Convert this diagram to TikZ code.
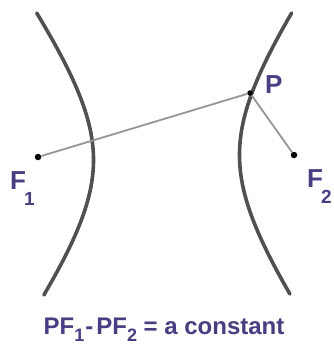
\documentclass[tikz,border=0pt]{standalone}
\usepackage{fontspec}
\setmainfont{Liberation Sans}
\definecolor{txt}{RGB}{72,62,130}
\definecolor{curve}{RGB}{80,80,80}
\definecolor{seg}{RGB}{150,150,150}
\begin{document}
\begin{tikzpicture}[x=1pt,y=-1pt,
  branch/.style={draw=curve,line width=3.6pt,line cap=round},
  segment/.style={draw=seg,line width=1.8pt},
  focus/.style={circle,fill=black,inner sep=0pt,minimum size=6.5pt},
  lbl/.style={text=txt,font=\fontsize{26}{26}\selectfont\bfseries,inner sep=0pt,anchor=base west},
  caption/.style={text=txt,font=\fontsize{24}{24}\selectfont\bfseries,inner sep=0pt,anchor=base}]
\useasboundingbox[fill=white] (0,0) rectangle (333,345);
% hyperbola branches
\draw[branch] plot[domain=13:295,samples=60,smooth,variable=\y]
  ({93.5-73*(sqrt(1+((\y-160)/100)^2)-1)},{\y});
\draw[branch] plot[domain=13:294,samples=60,smooth,variable=\y]
  ({239.5+73*(sqrt(1+((\y-155)/102)^2)-1)},{\y});
% points
\node[focus] (F1) at (38,157) {};
\node[focus] (F2) at (294,155) {};
\node[focus,minimum size=5.5pt] (P) at (250,93) {};
\draw[segment] (F1) -- (P);
\draw[segment] (P) -- (F2);
% labels
\node[lbl] (LF1) at (10,189) {F\kern-0.08em\raisebox{-0.62em}{\fontsize{19}{19}\selectfont\bfseries 1}};
\node[lbl] (LF2) at (307,187) {F\kern-0.08em\raisebox{-0.62em}{\fontsize{19}{19}\selectfont\bfseries 2}};
\node[lbl] (LP) at (265,93) {P};
\node[caption] (cap) at (164,334) {PF\raisebox{-0.3em}{\fontsize{18}{18}\selectfont\bfseries 1}\kern0.05em-\kern0.12em PF\raisebox{-0.3em}{\fontsize{18}{18}\selectfont\bfseries 2} = a constant};
\end{tikzpicture}
\end{document}
